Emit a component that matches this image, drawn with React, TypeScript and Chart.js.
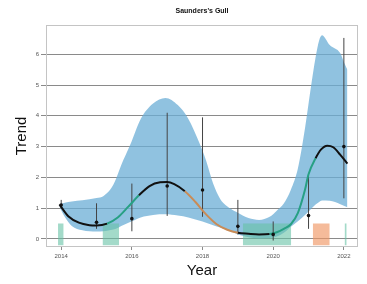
import React, { useEffect, useRef } from "react";
import { Chart, registerables } from "chart.js";

Chart.register(...registerables);

const TITLE = "Saunders's Gull";
const X_TITLE = "Year";
const Y_TITLE = "Trend";

const xTicks = [2014, 2016, 2018, 2020, 2022];
const yTicks = [0, 1, 2, 3, 4, 5, 6];

// confidence band of the smoothed trend
const bandX = [2013.95, 2014.1, 2014.3, 2014.6, 2015.0, 2015.2, 2015.4, 2015.55, 2015.7, 2015.95, 2016.25, 2016.6, 2016.95, 2017.3, 2017.6, 2017.9, 2018.1, 2018.3, 2018.5, 2018.8, 2019.0, 2019.3, 2019.6, 2019.9, 2020.1, 2020.3, 2020.5, 2020.7, 2020.9, 2021.05, 2021.2, 2021.3, 2021.38, 2021.6, 2021.9, 2022.0, 2022.1];
const bandUpper = [1.12, 1.18, 1.22, 1.26, 1.33, 1.4, 1.62, 1.95, 2.4, 3.05, 3.9, 4.4, 4.58, 4.35, 3.9, 3.15, 2.55, 1.8, 1.3, 0.98, 0.85, 0.68, 0.62, 0.72, 0.92, 1.15, 1.6, 2.3, 3.6, 4.8, 5.9, 6.45, 6.62, 6.3, 6.03, 5.75, 5.5];
const bandLower = [1.05, 0.72, 0.42, 0.28, 0.24, 0.25, 0.29, 0.33, 0.42, 0.55, 0.7, 0.78, 0.8, 0.76, 0.7, 0.6, 0.53, 0.45, 0.37, 0.25, 0.15, 0.06, 0.02, 0.03, 0.08, 0.2, 0.4, 0.58, 0.78, 0.95, 1.12, 1.2, 1.25, 1.24, 1.13, 1.08, 1.03];

// smoothed trend
const trendX = [2013.95, 2014.2, 2014.5, 2014.8, 2015.0, 2015.3, 2015.6, 2015.9, 2016.2, 2016.5, 2016.8, 2017.0, 2017.2, 2017.5, 2017.8, 2018.1, 2018.4, 2018.7, 2019.0, 2019.3, 2019.6, 2019.9, 2020.1, 2020.3, 2020.5, 2020.7, 2020.9, 2021.0, 2021.2, 2021.35, 2021.53, 2021.7, 2021.9, 2022.1];
const trendY = [1.12, 0.74, 0.53, 0.45, 0.44, 0.5, 0.7, 1.05, 1.42, 1.72, 1.84, 1.85, 1.78, 1.55, 1.2, 0.8, 0.48, 0.3, 0.2, 0.17, 0.15, 0.16, 0.22, 0.33, 0.48, 0.85, 1.6, 2.1, 2.62, 2.9, 3.03, 2.98, 2.73, 2.45];

// significant change periods of the trend
const increaseRanges = [[2015.35, 2016.1], [2019.95, 2021.2]];
const decreaseRanges = [[2017.6, 2019.05]];

// yearly observations with intervals
const years = [2014, 2015, 2016, 2017, 2018, 2019, 2020, 2021, 2022];
const obsValues = [1.1, 0.54, 0.66, 1.72, 1.59, 0.41, 0.15, 0.76, 3.0];
const obsLow = [1.0, 0.33, 0.25, 0.75, 0.72, 0.15, -0.05, 0.33, 1.32];
const obsHigh = [1.27, 1.16, 1.8, 4.1, 3.95, 1.27, 0.57, 2.08, 6.53];

// significance bars along the bottom
const increaseBars = [[2013.91, 2014.07], [2015.17, 2015.64], [2019.14, 2020.51], [2022.02, 2022.08]];
const decreaseBars = [[2021.12, 2021.6]];
const barTop = 0.5;
const barBottom = -0.2;

const FONT = "'Liberation Sans', Arial, sans-serif";

const inRanges = (x: number, ranges: number[][]) => ranges.some(([a, b]) => x >= a && x <= b);

const framePlugin = {
  id: "frame",
  afterDraw(chart: any) {
    const { ctx, chartArea: a } = chart;
    ctx.save();
    ctx.strokeStyle = "#c4c4c4";
    ctx.lineWidth = 1;
    ctx.strokeRect(Math.round(a.left) + 0.5, Math.round(a.top) + 0.5, Math.round(a.right - a.left) - 1, Math.round(a.bottom - a.top) - 1);
    ctx.restore();
  },
};

export default function App() {
  const ref = useRef<HTMLCanvasElement | null>(null);

  useEffect(() => {
    if (!ref.current) return;
    Chart.defaults.font.family = FONT;

    const barSets = [
      ...increaseBars.map((r) => ({ r, color: "rgba(102,194,165,0.6)" })),
      ...decreaseBars.map((r) => ({ r, color: "rgba(240,150,100,0.65)" })),
    ].map(({ r, color }) => ({
      data: [{ x: r[0], y: barTop }, { x: r[1], y: barTop }],
      borderColor: "transparent",
      borderWidth: 0,
      backgroundColor: color,
      fill: { value: barBottom },
      pointRadius: 0,
      tension: 0,
      order: 8,
    }));

    const errData: any[] = [];
    years.forEach((yr, i) => {
      errData.push({ x: yr, y: obsLow[i] });
      errData.push({ x: yr, y: obsHigh[i] });
      errData.push({ x: yr, y: null });
    });

    const chart = new Chart(ref.current, {
      type: "line",
      data: {
        datasets: [
          {
            data: bandX.map((x, i) => ({ x, y: bandLower[i] })),
            borderColor: "transparent",
            borderWidth: 0,
            pointRadius: 0,
            fill: false,
            cubicInterpolationMode: "monotone",
            order: 10,
          },
          {
            data: bandX.map((x, i) => ({ x, y: bandUpper[i] })),
            borderColor: "transparent",
            borderWidth: 0,
            pointRadius: 0,
            backgroundColor: "rgba(107,174,214,0.75)",
            fill: "-1",
            cubicInterpolationMode: "monotone",
            order: 10,
          },
          ...barSets,
          {
            data: errData,
            borderColor: "#444",
            borderWidth: 1,
            pointRadius: 0,
            spanGaps: false,
            fill: false,
            order: 6,
          },
          {
            data: trendX.map((x, i) => ({ x, y: trendY[i] })),
            borderColor: "#111",
            borderWidth: 2,
            pointRadius: 0,
            fill: false,
            cubicInterpolationMode: "monotone",
            segment: {
              borderColor: (ctx: any) => {
                const m = (ctx.p0.parsed.x + ctx.p1.parsed.x) / 2;
                if (inRanges(m, increaseRanges)) return "#27a084";
                if (inRanges(m, decreaseRanges)) return "#c98b56";
                return "#111";
              },
            },
            order: 4,
          },
          {
            data: years.map((x, i) => ({ x, y: obsValues[i] })),
            showLine: false,
            pointRadius: 1.8,
            pointBackgroundColor: "#111",
            pointBorderWidth: 0,
            fill: false,
            order: 2,
          },
        ] as any,
      },
      options: {
        responsive: false,
        animation: false,
        devicePixelRatio: 1,
        layout: { padding: { left: 0, right: 9, top: 0, bottom: 0 } },
        plugins: {
          legend: { display: false },
          tooltip: { enabled: false },
          title: {
            display: true,
            text: TITLE,
            fullSize: false,
            color: "#111",
            font: { size: 7, weight: "bold", family: FONT },
            padding: { top: 7, bottom: 9.6 },
          },
        },
        scales: {
          x: {
            type: "linear",
            min: 2013.57,
            max: 2022.4,
            afterBuildTicks: (s: any) => {
              s.ticks = xTicks.map((v) => ({ value: v }));
            },
            afterFit: (s: any) => {
              s.height = 37;
            },
            ticks: {
              font: { size: 6, family: FONT },
              color: "#555",
              padding: 3,
              maxRotation: 0,
              autoSkip: false,
              callback: (v: any) => String(v),
            },
            grid: { drawOnChartArea: false, drawTicks: true, tickLength: 3, color: "#8a8a8a" },
            border: { display: false },
            title: {
              display: true,
              text: X_TITLE,
              color: "#111",
              font: { size: 15, family: FONT },
              padding: { top: 0, bottom: 4 },
            },
          },
          y: {
            type: "linear",
            min: -0.26,
            max: 6.95,
            z: 1,
            afterBuildTicks: (s: any) => {
              s.ticks = yTicks.map((v) => ({ value: v }));
            },
            afterFit: (s: any) => {
              s.width = 46;
            },
            ticks: {
              font: { size: 6, family: FONT },
              color: "#555",
              padding: 2,
              callback: (v: any) => String(v),
            },
            grid: { color: "#8a8a8a", drawTicks: true, tickLength: 5 },
            border: { display: false },
            title: {
              display: true,
              text: Y_TITLE,
              color: "#111",
              font: { size: 15, family: FONT },
              padding: { top: 13, bottom: 0 },
            },
          },
        },
      },
      plugins: [framePlugin],
    });

    return () => chart.destroy();
  }, []);

  return (
    <div style={{ position: "absolute", left: 0, top: 0, width: 367, height: 284, background: "#fff" }}>
      <canvas ref={ref} width={367} height={284} style={{ display: "block" }} />
    </div>
  );
}
